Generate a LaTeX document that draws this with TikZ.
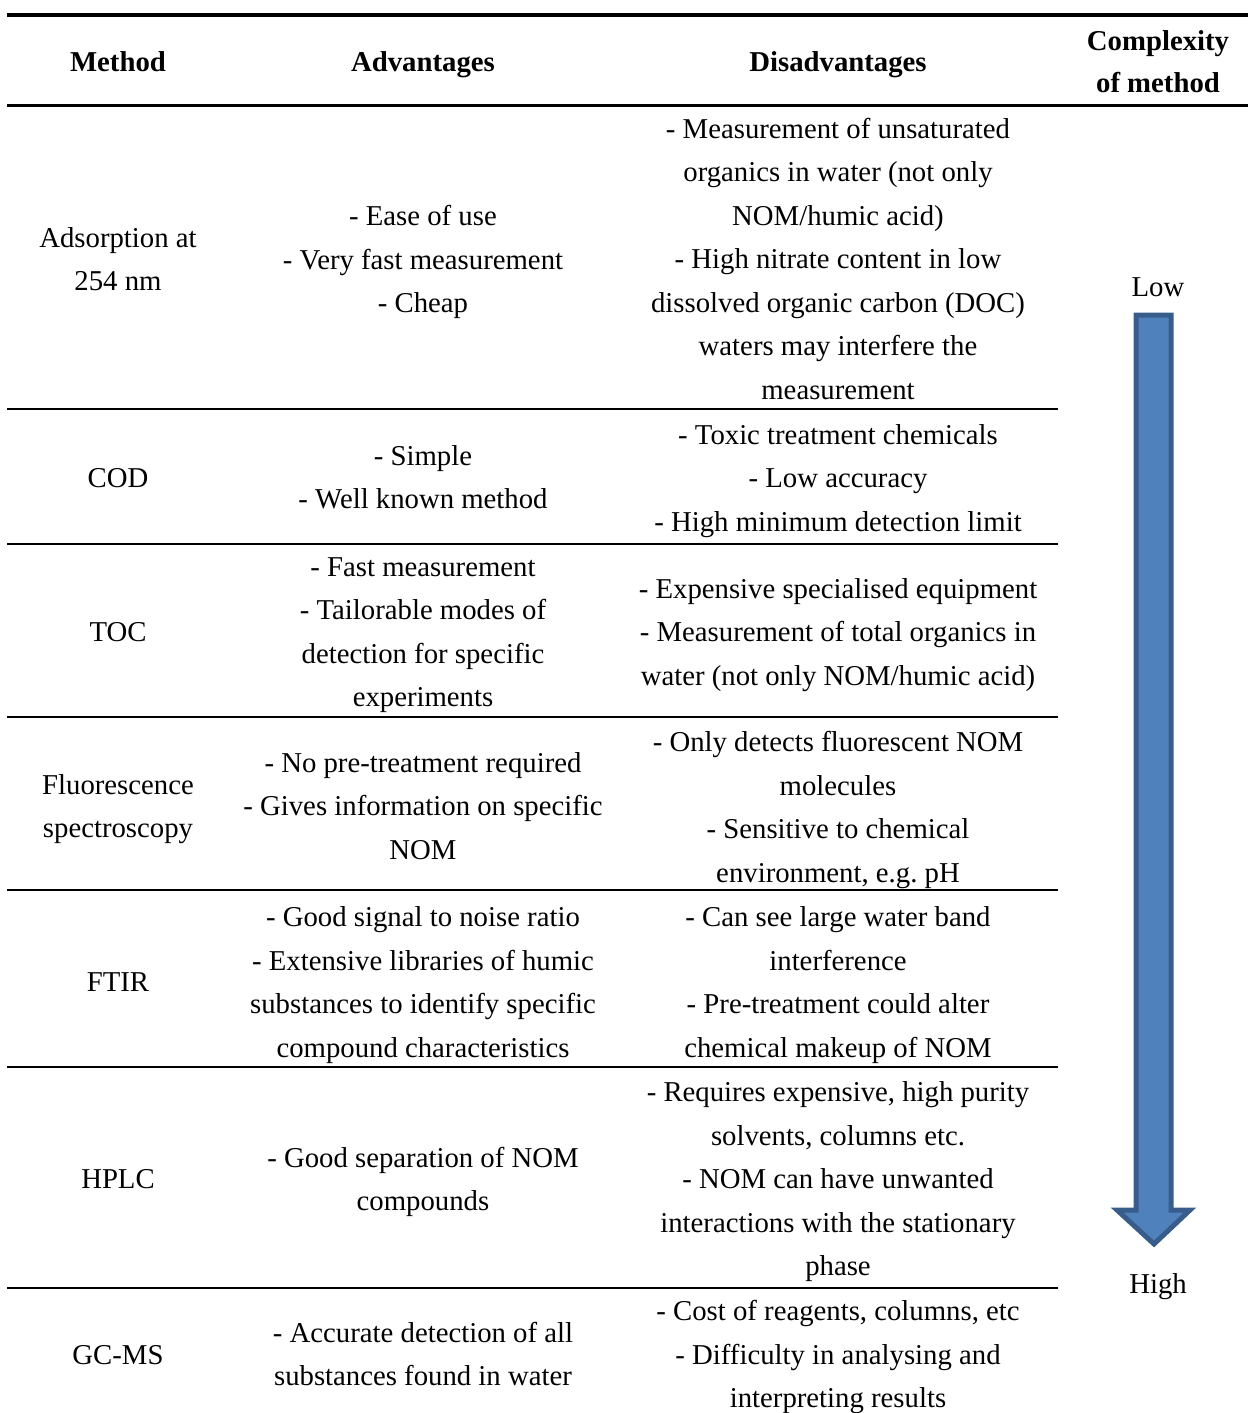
\documentclass[tikz,border=0pt]{standalone}
\usepackage{fontspec}
\setmainfont{Liberation Serif}
\frenchspacing
\definecolor{arrowfill}{HTML}{4F81BD}
\definecolor{arrowline}{HTML}{385D8A}
\begin{document}
\begin{tikzpicture}[x=0.4pt, y=-0.4pt, every node/.style={font=\fontsize{11.5pt}{17.4pt}\selectfont, align=center, inner sep=0pt},
    head/.style={font=\fontsize{11.5pt}{16.8pt}\selectfont\bfseries},
    toprule/.style={line width=1.5pt}, midrule/.style={line width=1.2pt}, rowrule/.style={line width=0.9pt}]
    \useasboundingbox (0,0) rectangle (1248,1413);
    
    \draw[toprule] (7,15) -- (1248,15);
    \draw[midrule] (7,105) -- (1248,105);
    \foreach \y in {409,544,717,890,1067,1288} {
      \draw[rowrule] (7,\y) -- (1058,\y);
    }
    
    \node[head] (hmethod) at (118,62) {Method};
    \node[head] (hadv) at (423,65) {Advantages};
    \node[head] (hdis) at (838,65) {Disadvantages};
    \node[head] (hcompl) at (1158,62) {Complexity\\of method};
    
    \node (m1) at (118,259) {Adsorption at\\254 nm};
    \node (m2) at (118,478) {COD};
    \node (m3) at (118,632) {TOC};
    \node (m4) at (118,809) {Fluorescence\\spectroscopy};
    \node (m5) at (118,982) {FTIR};
    \node (m6) at (118,1179) {HPLC};
    \node (m7) at (118,1355) {GC-MS};
    
    \node (a1) at (423,262) {- Ease of use\\- Very fast measurement\\- Cheap};
    \node (a2) at (423,477) {- Simple\\- Well known method};
    \node (a3) at (423,635) {- Fast measurement\\- Tailorable modes of\\detection for specific\\experiments};
    \node (a4) at (423,806) {- No pre-treatment required\\- Gives information on specific\\NOM};
    \node (a5) at (423,985) {- Good signal to noise ratio\\- Extensive libraries of humic\\substances to identify specific\\compound characteristics};
    \node (a6) at (423,1182) {- Good separation of NOM\\compounds};
    \node (a7) at (423,1354) {- Accurate detection of all\\substances found in water};
    
    \node (d1) at (838,259) {- Measurement of unsaturated\\organics in water (not only\\NOM/humic acid)\\- High nitrate content in low\\dissolved organic carbon (DOC)\\waters may interfere the\\measurement};
    \node (d2) at (838,481) {- Toxic treatment chemicals\\- Low accuracy\\- High minimum detection limit};
    \node (d3) at (838,635) {- Expensive specialised equipment\\- Measurement of total organics in\\water (not only NOM/humic acid)};
    \node (d4) at (838,810) {- Only detects fluorescent NOM\\molecules\\- Sensitive to chemical\\environment, e.g. pH};
    \node (d5) at (838,985) {- Can see large water band\\interference\\- Pre-treatment could alter\\chemical makeup of NOM};
    \node (d6) at (838,1182) {- Requires expensive, high purity\\solvents, columns etc.\\- NOM can have unwanted\\interactions with the stationary\\phase};
    \node (d7) at (838,1357) {- Cost of reagents, columns, etc\\- Difficulty in analysing and\\interpreting results};
    
    \node (low) at (1158,287) {Low};
    \node (high) at (1158,1287) {High};
    \draw[line width=2pt, draw=arrowline, fill=arrowfill] (1136,315) -- (1171,315) -- (1171,1210) -- (1190,1210) -- (1154,1244) -- (1117,1210) -- (1136,1210) -- cycle;
    \end{tikzpicture}
\end{document}
